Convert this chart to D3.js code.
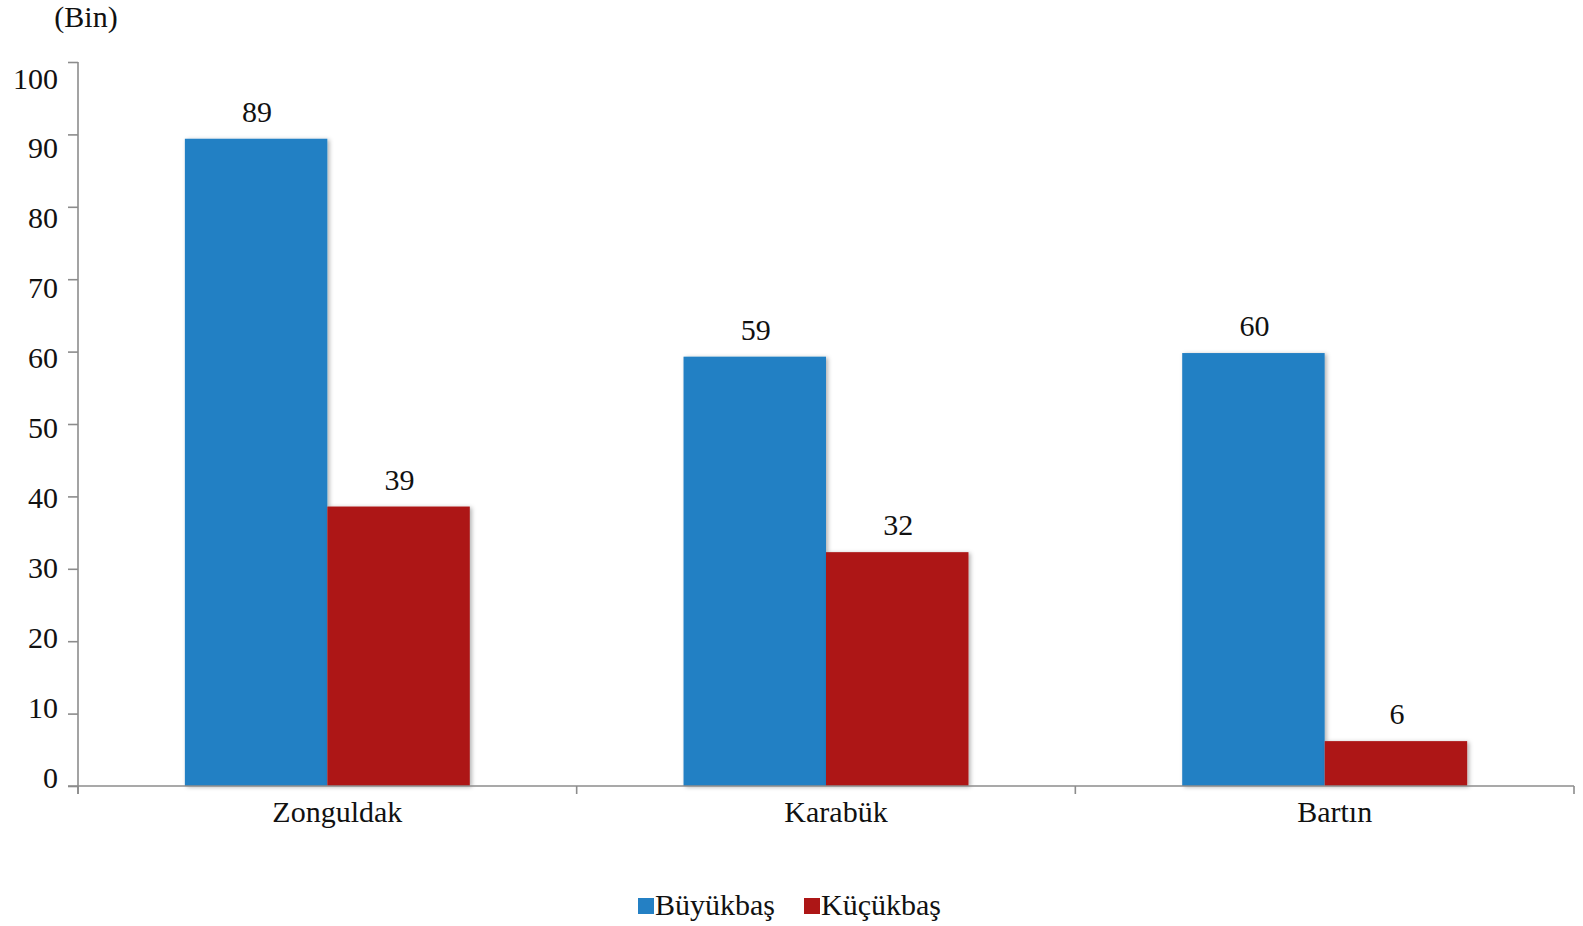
<!DOCTYPE html>
<html>
<head>
<meta charset="utf-8">
<script src="https://cdn.jsdelivr.net/npm/d3@7"></script>
<style>
  html, body { margin: 0; padding: 0; background: #fff; }
  svg { display: block; }
  text { font-family: "Liberation Serif", "Times New Roman", serif; fill: #111; }
</style>
</head>
<body>
<svg id="chart" width="1583" height="926"></svg>
<script>
const categories = ["Zonguldak", "Karabük", "Bartın"];
const seriesNames = ["Büyükbaş", "Küçükbaş"];
const buyukbas = [89.4, 59.3, 59.8];
const kucukbas = [38.6, 32.3, 6.2];
const yTicks = [0, 10, 20, 30, 40, 50, 60, 70, 80, 90, 100];
const unitLabel = "(Bin)";
const colors = ["#2480C4", "#AD1616"];

const svg = d3.select("#chart");
const fs = 30;

const defs = svg.append("defs");
const f = defs.append("filter").attr("id", "shadow").attr("x", "-10%").attr("y", "-10%").attr("width", "130%").attr("height", "130%");
f.append("feDropShadow").attr("dx", 2).attr("dy", 1).attr("stdDeviation", 2).attr("flood-color", "#000").attr("flood-opacity", 0.3);

const y = d3.scaleLinear().domain([0, 100]).range([786, 62]);
const yLab = d3.scaleLinear().domain([0, 100]).range([777.5, 78]);
const x = d3.scaleBand().domain(categories).range([78, 1574]).paddingInner(0).paddingOuter(0);
const xs = d3.scaleBand().domain(seriesNames).range([0, x.bandwidth()]).paddingInner(0).paddingOuter(0.75);

const data = categories.map((c, i) => ({ cat: c, vals: [buyukbas[i], kucukbas[i]] }));

// bars
const groups = svg.append("g").selectAll("g").data(data).join("g")
  .attr("transform", d => `translate(${x(d.cat)},0)`);
groups.selectAll("rect").data(d => d.vals.map((v, j) => ({ s: seriesNames[j], v, j })))
  .join("rect")
  .attr("x", d => xs(d.s))
  .attr("y", d => y(d.v))
  .attr("width", xs.bandwidth())
  .attr("height", d => y(0) - y(d.v))
  .attr("fill", d => colors[d.j])
  .attr("filter", "url(#shadow)");

// value labels
groups.selectAll("text.val").data(d => d.vals.map((v, j) => ({ s: seriesNames[j], v, j })))
  .join("text")
  .attr("class", "val")
  .attr("x", d => xs(d.s) + xs.bandwidth() / 2 + 1)
  .attr("y", d => y(d.v) - 17)
  .attr("text-anchor", "middle")
  .attr("font-size", fs)
  .text(d => d3.format(".0f")(d.v));

// y axis
const yAxis = svg.append("g").attr("transform", "translate(78,0)")
  .call(d3.axisLeft(y).tickValues(yTicks).tickSize(10).tickSizeOuter(0).tickFormat(""));
yAxis.select(".domain").attr("stroke", "#8c8c8c").attr("stroke-width", 1.6).attr("d", `M0,${y(100)}V${y(0) + 8}`);
yAxis.selectAll(".tick line").attr("stroke", "#8c8c8c").attr("stroke-width", 1.6);

svg.append("g").selectAll("text").data(yTicks).join("text")
  .attr("x", 58)
  .attr("y", d => yLab(d))
  .attr("dy", "0.35em")
  .attr("text-anchor", "end")
  .attr("font-size", fs)
  .text(d => d);

// x axis
const xAxisG = svg.append("g");
xAxisG.append("line")
  .attr("x1", 68).attr("x2", x.range()[1])
  .attr("y1", y(0)).attr("y2", y(0))
  .attr("stroke", "#8c8c8c").attr("stroke-width", 1.6);
const bounds = categories.map(c => x(c)).concat([x.range()[1]]);
xAxisG.selectAll("line.tk").data(bounds).join("line")
  .attr("class", "tk")
  .attr("x1", d => d).attr("x2", d => d)
  .attr("y1", y(0)).attr("y2", y(0) + 8)
  .attr("stroke", "#8c8c8c").attr("stroke-width", 1.6);
xAxisG.selectAll("text").data(categories).join("text")
  .attr("x", d => x(d) + x.bandwidth() / 2 + 10)
  .attr("y", 822)
  .attr("text-anchor", "middle")
  .attr("font-size", fs)
  .text(d => d);

// unit label
svg.append("text").attr("x", 86).attr("y", 27).attr("text-anchor", "middle").attr("font-size", fs).text(unitLabel);

// legend
const legend = svg.append("g");
let lx = 638;
seriesNames.forEach((s, i) => {
  legend.append("rect").attr("x", lx).attr("y", 898).attr("width", 16).attr("height", 16).attr("fill", colors[i]);
  const t = legend.append("text").attr("x", lx + 17).attr("y", 915).attr("font-size", fs).text(s);
  const w = t.node().getComputedTextLength();
  lx = lx + 17 + w + 29;
});
</script>
</body>
</html>
